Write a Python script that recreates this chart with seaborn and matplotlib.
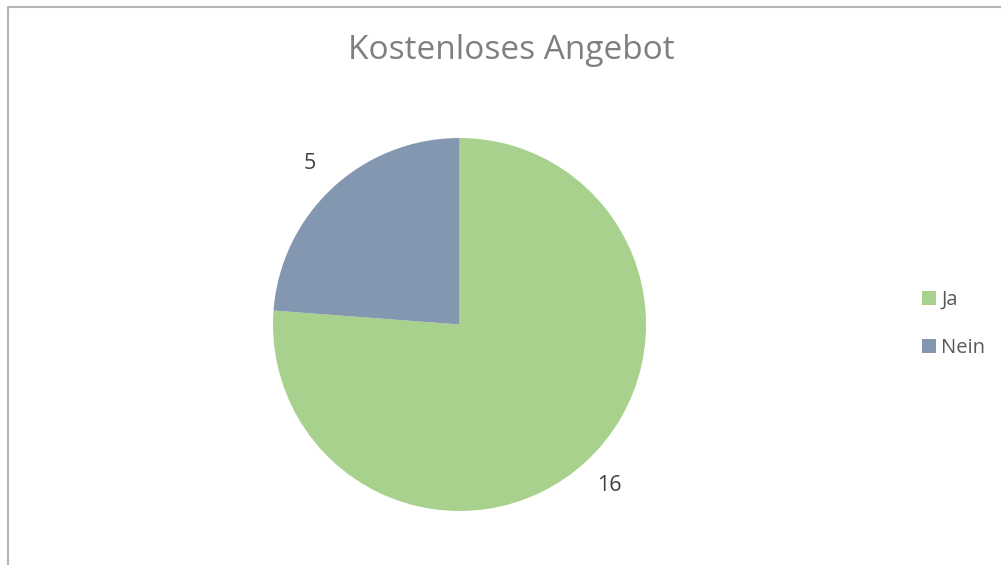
import matplotlib
matplotlib.use('Agg')
import matplotlib.pyplot as plt
import seaborn as sns
from matplotlib.lines import Line2D
from matplotlib.patches import Patch

# data
categories = ['Ja', 'Nein']
values = [16, 5]
colors = ['#A9D18E', '#8497B0']
title = 'Kostenloses Angebot'

sns.set_theme(style='white')
plt.rcParams['font.family'] = ['Open Sans', 'DejaVu Sans']

fig = plt.figure(figsize=(10.01, 5.65), dpi=100)

# pie axes placed so centre is at (459, 324) px and radius ~186 px
W, H = 1001, 565
r = 186.5
ax = fig.add_axes([(459.5 - r) / W, (H - 324.5 - r) / H, 2 * r / W, 2 * r / H])

total = sum(values)
wedges, texts, autotexts = ax.pie(
    values,
    colors=sns.color_palette(colors),
    startangle=90,
    counterclock=False,
    autopct=lambda p: '%d' % round(p * total / 100),
    pctdistance=1.18,
    wedgeprops=dict(linewidth=0),
    textprops=dict(color='#404040', fontsize=15.5),
)
ax.set_xlim(-1, 1)
ax.set_ylim(-1, 1)
ax.set_aspect('equal')
ax.axis('off')

# title
fig.text(511 / W, 1 - 59 / H, title, ha='center', va='baseline',
         fontsize=24, color='#7F7F7F')

# legend
handles = [Patch(facecolor=c, edgecolor='none') for c in colors]
fig.legend(handles, categories, loc='center left',
           bbox_to_anchor=(904 / W, 1 - 324 / H), frameon=False,
           fontsize=14.5, labelcolor='#595959', handlelength=0.7,
           handleheight=0.7, handletextpad=0.25, labelspacing=1.4)

# partial chart frame (top and left edge)
fig.add_artist(Line2D([7.5 / W, 1], [1 - 7 / H, 1 - 7 / H], color='#B4B4B4', lw=1.5))
fig.add_artist(Line2D([7.5 / W, 7.5 / W], [0, 1 - 7 / H], color='#B4B4B4', lw=1.5))

fig.savefig('out.png', dpi=100)
